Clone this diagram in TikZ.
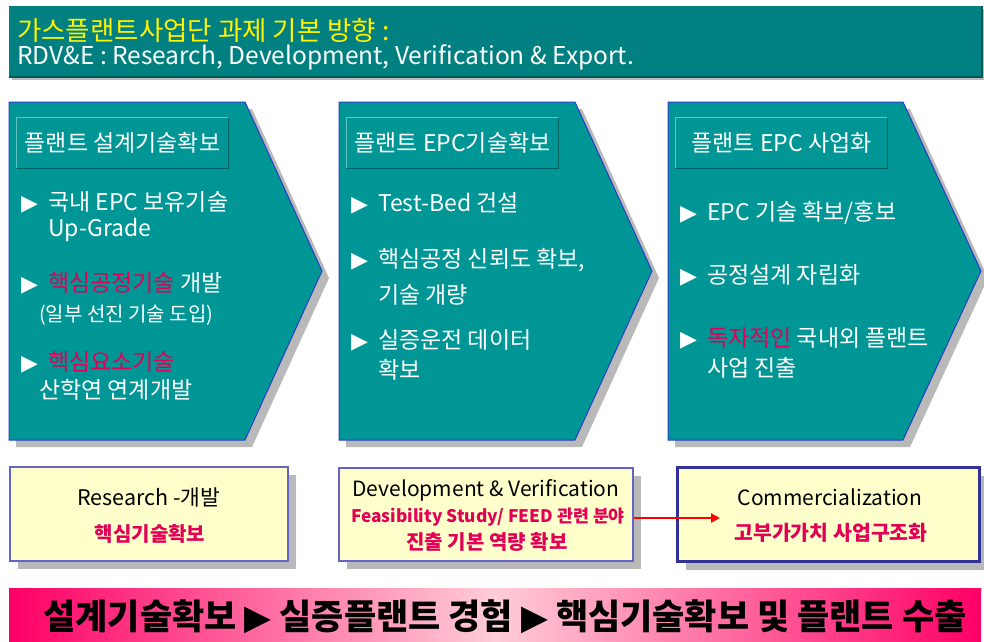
\documentclass[tikz,border=0pt]{standalone}
\usepackage{fontspec}
\setmainfont{Noto Sans CJK KR}
\newfontfamily\symf{DejaVu Sans}
\usetikzlibrary{arrows.meta,shadows}
\definecolor{hdrteal}{RGB}{0,128,128}
\definecolor{hdredge}{RGB}{0,90,90}
\definecolor{pteal}{RGB}{0,150,150}
\definecolor{pblue}{RGB}{40,60,200}
\definecolor{shgray}{RGB}{185,185,185}
\definecolor{ylw}{RGB}{255,255,204}
\definecolor{bxblue}{RGB}{100,100,200}
\definecolor{navyb}{RGB}{50,50,150}
\definecolor{hot}{RGB}{225,0,85}
\definecolor{pinkd}{RGB}{255,0,102}
\definecolor{pinkl}{RGB}{255,205,215}
\definecolor{tlight}{RGB}{100,195,195}
\definecolor{tdark}{RGB}{0,95,95}
\newcommand\bul{{\symf\fontsize{22}{22}\selectfont ▶}\hspace{10pt}}
\begin{document}
\begin{tikzpicture}[x=1pt,y=-1pt,
  ptxt/.style={anchor=west,inner sep=0pt,text=white,font=\fontsize{23}{27}\selectfont},
  ttl/.style={fill=pteal,minimum width=211pt,minimum height=50pt,inner sep=0pt,text=white,font=\fontsize{23}{27}\selectfont},
  penta/.style={fill=pteal,draw=pblue,line width=1pt},
  pshadow/.style={fill=shgray},
  ybox/.style={fill=ylw,draw=bxblue,line width=1.2pt,inner sep=0pt,
     drop shadow={shadow xshift=8pt,shadow yshift=-8pt,fill=shgray,opacity=1}},
  btxt/.style={inner sep=0pt,text=black,font=\fontsize{21.5}{25}\selectfont},
  rtxt/.style={inner sep=0pt,text=hot,font=\bfseries\fontsize{20}{24}\selectfont},
  hdr/.style={anchor=west,inner sep=0pt}]
\useasboundingbox (0,0) rectangle (984,641);
% header
\fill[shgray] (12,9) rectangle (985,80);
\fill[hdrteal] (9,6) rectangle (982,77);
\draw[hdredge,line width=1.2pt] (982,6) -- (982,77) -- (9,77);
\node[hdr,text=yellow,font=\fontsize{26.5}{30}\selectfont] (h1) at (17,30) {가스플랜트사업단 과제 기본 방향 :};
\node[hdr,text=white,font=\fontsize{24.5}{28}\selectfont] (h2) at (17,57) {RDV\&E : Research, Development, Verification \& Export.};
% pentagons
\foreach \a/\s/\t in {9/245/322,339/575/652,668/903/981}{
  \fill[pshadow,shift={(7,7)}] (\a,102) -- (\s,102) -- (\t,271) -- (\s,440) -- (\a,440) -- cycle;
  \draw[penta] (\a,102) -- (\s,102) -- (\t,271) -- (\s,440) -- (\a,440) -- cycle;
}
% title boxes
\node[ttl] (t1) at (122.5,143) {플랜트 설계기술확보};
\node[ttl] (t2) at (452.5,143) {플랜트 EPC기술확보};
\node[ttl] (t3) at (781.5,143) {플랜트 EPC 사업화};
\foreach \n in {t1,t2,t3}{
  \draw[tlight,line width=1.3pt] (\n.south west) -- (\n.north west) -- (\n.north east);
  \draw[tdark,line width=1.3pt] (\n.north east) -- (\n.south east) -- (\n.south west);
}
% pentagon 1 text
\node[ptxt] (a1) at (21,202) {\bul 국내 EPC 보유기술};
\node[ptxt] (a2) at (48,230) {Up-Grade};
\node[ptxt] (a3) at (21,283) {\bul {\color{hot}핵심공정기술} 개발};
\node[ptxt,font=\fontsize{20}{24}\selectfont] (a4) at (39,315) {(일부 선진 기술 도입)};
\node[ptxt] (a5) at (21,362) {\bul {\color{hot}핵심요소기술}};
\node[ptxt] (a6) at (39,390) {산학연 연계개발};
% pentagon 2 text
\node[ptxt] (b1t) at (351,203) {\bul Test-Bed 건설};
\node[ptxt] (b2t) at (351,260) {\bul 핵심공정 신뢰도 확보,};
\node[ptxt] (b3t) at (378,295) {기술 개량};
\node[ptxt] (b4t) at (351,340) {\bul 실증운전 데이터};
\node[ptxt] (b5t) at (378,370) {확보};
% pentagon 3 text
\node[ptxt] (c1t) at (680,213) {\bul EPC 기술 확보/홍보};
\node[ptxt] (c2t) at (680,275) {\bul 공정설계 자립화};
\node[ptxt] (c3t) at (680,338) {\bul {\color{hot}독자적인} 국내외 플랜트};
\node[ptxt] (c4t) at (707,368) {사업 진출};
% bottom boxes
\node[ybox,minimum width=278pt,minimum height=94pt] (bx1) at (149,514) {};
\node[ybox,minimum width=294pt,minimum height=93pt] (bx2) at (486,514.5) {};
\node[ybox,draw=navyb,line width=3.5pt,minimum width=302pt,minimum height=94pt] (bx3) at (828.5,514.5) {};
\node[btxt] (r1) at (149,497) {Research -개발};
\node[rtxt] (r2) at (150,534) {핵심기술확보};
\node[btxt,font=\fontsize{21}{25}\selectfont] (d1) at (486,490) {Development \& Verification};
\node[rtxt,font=\bfseries\fontsize{17.3}{21}\selectfont] (d2) at (488,517) {Feasibility Study/ FEED 관련 분야};
\node[rtxt,font=\bfseries\fontsize{20}{24}\selectfont] (d3) at (487,542) {진출 기본 역량 확보};
\node[btxt,font=\fontsize{21}{25}\selectfont] (m1) at (830,497) {Commercialization};
\node[rtxt,font=\bfseries\fontsize{20.5}{24}\selectfont] (m2) at (831,533) {고부가가치 사업구조화};
\coordinate (arrEnd) at (720,518);
\draw[red,line width=2.5pt,-{Triangle[length=9pt,width=9pt]}] (bx2.east |- arrEnd) -- (arrEnd);
% banner
\shade[left color=pinkd,right color=pinkd,middle color=pinkl] (9,588) rectangle (981,641);
\node[inner sep=0pt,font=\bfseries\fontsize{35}{38}\selectfont] (ban) at (505,617) {설계기술확보 {\symf ▶} 실증플랜트 경험 {\symf ▶} 핵심기술확보 및 플랜트 수출};
\end{tikzpicture}
\end{document}
